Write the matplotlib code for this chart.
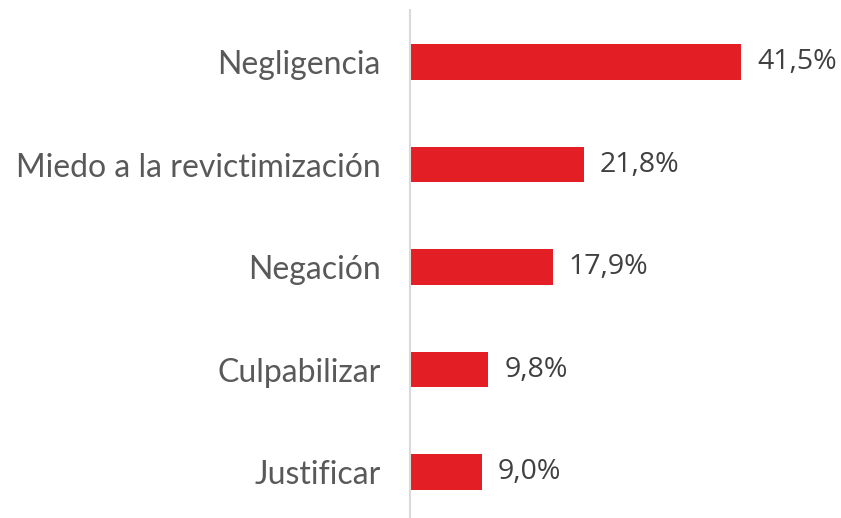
import matplotlib
matplotlib.use("Agg")
import matplotlib.pyplot as plt

categories = ["Negligencia", "Miedo a la revictimización", "Negación", "Culpabilizar", "Justificar"]
values = [41.5, 21.8, 17.9, 9.8, 9.0]
value_labels = ["41,5%", "21,8%", "17,9%", "9,8%", "9,0%"]

fig = plt.figure(figsize=(8.41, 5.18), dpi=100)
ax = fig.add_axes([410/841, 0, 431/841, 508/518])

ypos = list(range(len(categories)))
ax.barh(ypos, values, height=0.35, color="#E31E24")
ax.set_xlim(0, 431/7.98)
ax.set_ylim(4.448, -0.507)

for y, v, lab in zip(ypos, values, value_labels):
    ax.annotate(lab, (v, y), xytext=(11.5, 0), textcoords="offset points",
                va="center", ha="left", fontsize=20.5, family="Open Sans", color="#404040")

ax.set_yticks(ypos)
ax.set_yticklabels(categories, fontsize=23, family="Lato", color="#595959")
ax.tick_params(axis="y", length=0, pad=21)
ax.set_xticks([])
for s in ["top", "right", "bottom"]:
    ax.spines[s].set_visible(False)
ax.spines["left"].set_color("#D9D9D9")
ax.spines["left"].set_linewidth(1.5)

fig.savefig("out.png", dpi=100)
